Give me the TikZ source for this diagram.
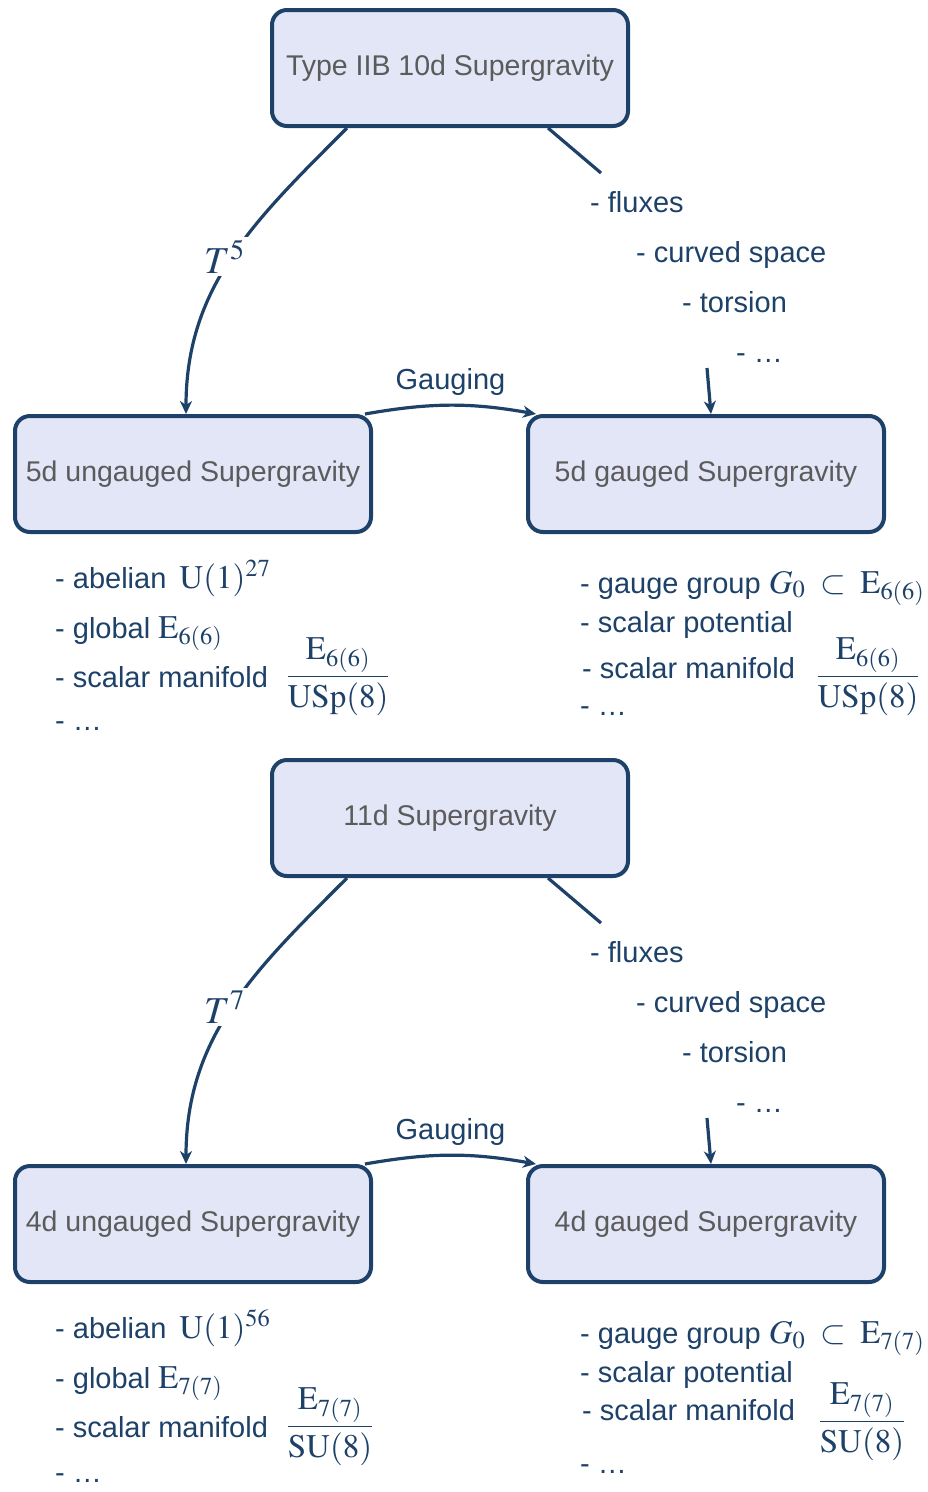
\documentclass[tikz,border=0pt]{standalone}
\usepackage{amsmath,amssymb}
\usepackage{mathptmx}
\usepackage[no-math]{fontspec}
\setmainfont{Liberation Sans}
\usetikzlibrary{arrows.meta}

\definecolor{sgblue}{HTML}{1D4168}
\definecolor{sgfill}{HTML}{E3E6F7}
\definecolor{sggray}{HTML}{5B5B5B}
\newcommand{\sgmath}[1]{{\fontsize{33}{38}\selectfont$#1$}}

\begin{document}
\begin{tikzpicture}[x=1pt,y=-1pt,
  sgbox/.style={draw=sgblue, line width=4pt, fill=sgfill, rounded corners=15pt,
    minimum width=356pt, minimum height=116pt, inner sep=0pt, text=sggray,
    font=\fontsize{28.5}{34}\selectfont},
  sgitem/.style={anchor=base west, inner sep=0pt, text=sgblue, font=\fontsize{29}{34}\selectfont},
  sgfrac/.style={anchor=base, inner sep=0pt, text=sgblue, font=\fontsize{33}{38}\selectfont},
  sgline/.style={draw=sgblue, line width=3.2pt},
  sgarrow/.style={sgline, -{Stealth[length=13pt,width=12pt,inset=4pt]}},
  sgtorus/.style={fill=white, inner sep=3pt, text=sgblue, font=\fontsize{38}{40}\selectfont},
  sglabel/.style={text=sgblue, font=\fontsize{29}{34}\selectfont}]
\useasboundingbox (0,0) rectangle (927,1492);

% upper half: IIB on T^5
\node[sgbox] (iib) at (450,68) {Type IIB 10d Supergravity};
\node[sgbox] (ung5) at (193,474) {5d ungauged Supergravity};
\node[sgbox] (gau5) at (706,474) {5d gauged Supergravity};

\draw[sgarrow] ([xshift=-103pt]iib.south) to[out=-135,in=90]
  node[sgtorus, xshift=-8pt] (t5) {$T^5$} ([xshift=-7pt]ung5.north);
\draw[sgarrow] ([xshift=172pt]ung5.north) to[bend left=10]
  node[sglabel, above=5pt] (gauging5) {Gauging} ([xshift=-170pt]gau5.north);

\coordinate (fluxend5) at (601,173);
\coordinate (dots5) at (707,368);
\draw[sgline] ([xshift=98pt]iib.south) -- (fluxend5);
\draw[sgarrow] (dots5) -- ([xshift=5pt]gau5.north);

\node[sgitem] (flux5) at (590,212) {- fluxes};
\node[sgitem] (curv5) at (636,262) {- curved space};
\node[sgitem] (tors5) at (682,312) {- torsion};
\node[sgitem] (more5) at (736,362) {- …};

\node[sgitem] (abel5) at (55,588) {- abelian\hspace{13pt}\sgmath{\mathrm{U}(1)^{27}}};
\node[sgitem] (glob5) at (55,638) {- global \sgmath{\mathrm{E}_{6(6)}}};
\node[sgitem] (scal5) at (55,687) {- scalar manifold};
\node[sgitem] (etc5) at (55,730) {- …};
\node[sgfrac] (frl5) at (338,685) {$\dfrac{\mathrm{E}_{6(6)}}{\mathrm{USp}(8)}$};

\node[sgitem] (ggrp5) at (580,593) {- gauge group \sgmath{G_0\;\subset\;\mathrm{E}_{6(6)}}};
\node[sgitem] (pot5) at (580,632) {- scalar potential};
\node[sgitem] (sman5) at (582,678) {- scalar manifold};
\node[sgitem] (gdots5) at (580,715) {- …};
\node[sgfrac] (frr5) at (868,685) {$\dfrac{\mathrm{E}_{6(6)}}{\mathrm{USp}(8)}$};

% lower half: 11d on T^7
\node[sgbox] (elev) at (450,818) {11d Supergravity};
\node[sgbox] (ung4) at (193,1224) {4d ungauged Supergravity};
\node[sgbox] (gau4) at (706,1224) {4d gauged Supergravity};

\draw[sgarrow] ([xshift=-103pt]elev.south) to[out=-135,in=90]
  node[sgtorus, xshift=-8pt] (t7) {$T^7$} ([xshift=-7pt]ung4.north);
\draw[sgarrow] ([xshift=172pt]ung4.north) to[bend left=10]
  node[sglabel, above=5pt] (gauging4) {Gauging} ([xshift=-170pt]gau4.north);

\coordinate (fluxend4) at (601,923);
\coordinate (dots4) at (707,1118);
\draw[sgline] ([xshift=98pt]elev.south) -- (fluxend4);
\draw[sgarrow] (dots4) -- ([xshift=5pt]gau4.north);

\node[sgitem] (flux4) at (590,962) {- fluxes};
\node[sgitem] (curv4) at (636,1012) {- curved space};
\node[sgitem] (tors4) at (682,1062) {- torsion};
\node[sgitem] (more4) at (736,1112) {- …};

\node[sgitem] (abel4) at (55,1338) {- abelian\hspace{13pt}\sgmath{\mathrm{U}(1)^{56}}};
\node[sgitem] (glob4) at (55,1388) {- global \sgmath{\mathrm{E}_{7(7)}}};
\node[sgitem] (scal4) at (55,1437) {- scalar manifold};
\node[sgitem] (etc4) at (55,1482) {- …};
\node[sgfrac] (frl4) at (330,1435) {$\dfrac{\mathrm{E}_{7(7)}}{\mathrm{SU}(8)}$};

\node[sgitem] (ggrp4) at (580,1343) {- gauge group \sgmath{G_0\;\subset\;\mathrm{E}_{7(7)}}};
\node[sgitem] (pot4) at (580,1382) {- scalar potential};
\node[sgitem] (sman4) at (582,1420) {- scalar manifold};
\node[sgitem] (gdots4) at (580,1473) {- …};
\node[sgfrac] (frr4) at (862,1430) {$\dfrac{\mathrm{E}_{7(7)}}{\mathrm{SU}(8)}$};
\end{tikzpicture}
\end{document}
